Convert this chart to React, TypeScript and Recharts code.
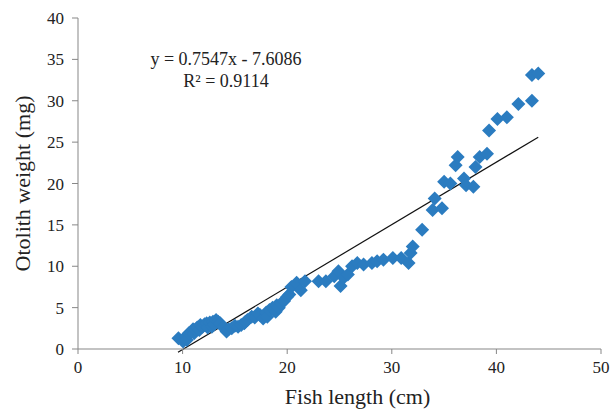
import React from "react";
import { ScatterChart, Scatter, XAxis, YAxis, ReferenceLine } from "recharts";

const fishLength = [
  9.6, 10.05, 10.3, 10.4, 10.6, 10.8, 11.0, 11.1, 11.2, 11.4, 11.6, 11.7, 11.9, 12.1, 12.3, 12.4, 12.6, 12.8, 12.9,
  13.0, 13.2, 13.4, 13.6, 13.9, 14.2, 14.4, 14.7, 15.0, 15.3, 15.6, 15.9, 16.0, 16.2, 16.6, 16.9, 17.2, 17.4, 17.7,
  18.0, 18.1, 18.3, 18.6, 18.9, 19.0, 19.2, 19.4, 19.7, 20.0, 20.2, 20.4, 20.9, 21.3, 21.7, 23.0, 23.7, 24.5, 24.9,
  25.1, 25.4, 25.8, 26.2, 26.7, 27.3, 28.1, 28.6, 29.2, 30.1, 30.9, 31.6, 31.8, 32.0, 32.9, 33.9, 34.1, 34.8, 35.0,
  35.6, 36.1, 36.3, 36.9, 37.1, 37.8, 38.0, 38.4, 39.1, 39.3, 40.1, 41.0, 42.1, 43.4, 43.4, 44.0,
];
const otolithWeight = [
  1.3, 0.9, 1.5, 1.1, 1.9, 2.0, 2.4, 1.9, 2.3, 2.6, 2.3, 2.9, 2.7, 3.0, 3.1, 2.6, 3.2, 2.7, 3.3,
  3.0, 3.5, 3.3, 3.1, 2.6, 2.1, 2.4, 2.5, 2.8, 2.7, 2.9, 3.1, 3.3, 3.5, 3.9, 3.8, 4.3, 4.1, 3.7,
  4.4, 3.9, 4.7, 5.0, 4.5, 5.3, 5.0, 5.5, 5.8, 6.3, 6.6, 7.5, 8.0, 7.1, 8.2, 8.2, 8.2, 8.8, 9.4,
  7.6, 8.6, 9.0, 10.0, 10.4, 10.2, 10.4, 10.6, 10.8, 11.0, 11.0, 10.4, 11.6, 12.4, 14.4, 16.8, 18.2, 17.0, 20.2,
  20.0, 22.2, 23.2, 20.6, 19.8, 19.6, 22.0, 23.2, 23.6, 26.4, 27.8, 28.0, 29.6, 30.0, 33.1, 33.3,
];
const xTicks = [0, 10, 20, 30, 40, 50];
const yTicks = [0, 5, 10, 15, 20, 25, 30, 35, 40];
const slope = 0.7547;
const intercept = -7.6086;
const trendStart = 9.56;
const trendEnd = 44.0;

const points = fishLength.map((x, i) => ({ x, y: otolithWeight[i] }));

const BLUE = "#2b7cc0";
const TEXT = "#222";
const AXIS = "#878787";
const FONT = "'Liberation Serif', 'Times New Roman', serif";

const Diamond = (props: any) => {
  const { cx, cy } = props;
  const r = 7;
  return <path d={`M${cx},${cy - r}L${cx + r},${cy}L${cx},${cy + r}L${cx - r},${cy}Z`} fill={BLUE} />;
};

export default function App() {
  return (
    <div style={{ position: "absolute", left: 0, top: 0, width: 616, height: 409, background: "#fff", fontFamily: FONT }}>
      <ScatterChart width={616} height={409} margin={{ top: 18, right: 15, bottom: 0, left: 18 }}>
        <XAxis
          type="number"
          dataKey="x"
          domain={[0, 50]}
          ticks={xTicks}
          stroke={AXIS}
          tickSize={5}
          tickMargin={7}
          height={60}
          tick={{ fill: TEXT, fontSize: 17, fontFamily: FONT }}
          label={{ value: "Fish length (cm)", position: "insideBottom", offset: 5, dx: 18, fill: TEXT, fontSize: 22, fontFamily: FONT }}
        />
        <YAxis
          type="number"
          dataKey="y"
          domain={[0, 40]}
          ticks={yTicks}
          stroke={AXIS}
          tickSize={6}
          tickMargin={8}
          width={60}
          allowDataOverflow
          tick={{ fill: TEXT, fontSize: 17, fontFamily: FONT }}
          label={{ value: "Otolith weight (mg)", angle: -90, position: "insideLeft", offset: 4, dy: 0, fill: TEXT, fontSize: 22, fontFamily: FONT, style: { textAnchor: "middle" } }}
        />
        <ReferenceLine
          segment={[
            { x: trendStart, y: slope * trendStart + intercept },
            { x: trendEnd, y: slope * trendEnd + intercept },
          ]}
          stroke="#111"
          strokeWidth={1.2}
          ifOverflow="visible"
        />
        <Scatter data={points} shape={<Diamond />} isAnimationActive={false} />
      </ScatterChart>
      <div style={{ position: "absolute", left: 136, top: 48, width: 180, textAlign: "center", fontSize: 18, lineHeight: "22px", color: TEXT, whiteSpace: "nowrap" }}>
        <div>y = 0.7547x - 7.6086</div>
        <div>R² = 0.9114</div>
      </div>
    </div>
  );
}
